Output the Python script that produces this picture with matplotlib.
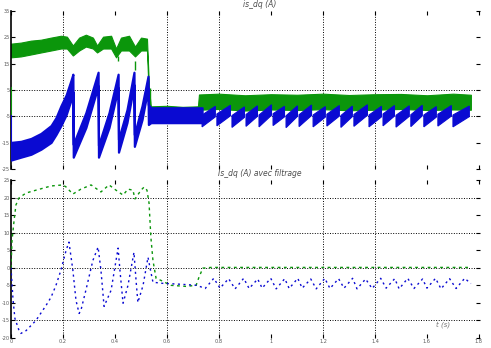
import numpy as np
import matplotlib
matplotlib.use("Agg")
import matplotlib.pyplot as plt

plt.rcParams["axes.unicode_minus"] = False

# ---- top panel (raw currents), band envelopes ----
g_t = [0, .038, .077, .115, .154, .192, .215, .238, .262, .288, .315, .331, .354, .385,
       .404, .423, .454, .477, .5, .523, .531, .538, .60, .66, .719, .723, .80, .90,
       1.0, 1.1, 1.2, 1.3, 1.4, 1.5, 1.6, 1.7, 1.769]
g_hi = [22.6, 23.0, 23.75, 24.1, 24.9, 25.6, 25.25, 21.9, 24.9, 26.0, 24.9, 21.9, 25.25,
        25.6, 20.75, 24.9, 25.6, 21.5, 24.9, 24.5, 5.0, -1.2, -1.0, -1.4, -1.2, 3.3, 3.6,
        3.0, 3.4, 3.2, 3.6, 3.1, 3.4, 3.5, 3.0, 3.6, 3.2]
g_lo = [17.4, 17.75, 18.5, 19.25, 20.0, 20.75, 20.75, 18.1, 20.0, 21.5, 20.75, 19.25,
        20.75, 20.75, 17.4, 20.0, 20.0, 17.75, 20.0, 20.0, 0.1, -6.6, -6.8, -6.5, -6.6,
        -2.5, -2.2, -2.8, -2.4, -2.6, -2.3, -2.7, -2.5, -2.2, -2.6, -2.4, -2.5]
g_spike_t = [.412, .477, .535]
g_spike_lo = [16.2, 12.5, 0.1]
g_spike_hi = [18.1, 16.2, 5.8]

b_t = [0, .038, .077, .115, .154, .173, .192, .212, .231, .238, .2395, .288, .335, .3365,
       .377, .412, .4135, .446, .473, .4745, .504, .527, .5285, .538, .735]
b_hi = [-14.9, -14.5, -13.4, -11.5, -8.5, -5.5, -1.0, 3.1, 8.75, 11.0, -15.6, -3.6, 11.75,
        -16.0, -3.6, 11.0, -13.75, -2.5, 11.75, -11.9, -1.0, 10.25, -0.6, -1.75, -1.75]
b_lo = [-21.6, -20.5, -19.4, -17.5, -14.9, -11.9, -8.5, -4.4, 1.25, 4.25, -20.5, -9.25, 6.5,
        -20.5, -9.25, 5.75, -18.6, -7.4, 6.9, -16.4, -6.25, 5.75, -8.1, -7.4, -7.4]
b_spike_t = [.238, .412]
b_spike_lo = [-4.4, -4.4]
b_spike_hi = [4.25, 5.75]

# sawtooth teeth after the change of regime
tooth_t = [.735, .792, .85, .904, .954, 1.008, 1.058, 1.108, 1.162, 1.215, 1.269, 1.319,
           1.377, 1.431, 1.481, 1.538, 1.588, 1.642, 1.7, 1.769]
tooth_bot = [-9.0, -8.6, -9.2, -8.8, -9.0, -8.5, -9.3, -8.9, -9.0, -8.7, -9.2, -8.8, -9.0,
             -8.6, -9.1, -8.9, -9.0, -8.7, -9.0]
tooth_top = [-1.2, -0.8, -1.4, -1.0, -0.6, -1.2, -1.0, -0.7, -1.3, -0.9, -1.1, -0.6, -1.2,
             -0.9, -1.0, -0.8, -1.3, -0.9, -1.1]

# ---- bottom panel (filtered currents) ----
fg_t = [0, .004, .012, .019, .031, .058, .096, .154, .2, .212, .238, .269, .308, .346,
        .377, .404, .431, .45, .469, .477, .5, .512, .523, .531, .538, .546, .558, .577,
        .615, .673, .712, .723, .738, .769, 1.769]
fg_v = [0, 7.9, 13.6, 17.9, 19.9, 21.3, 22.1, 23.3, 23.6, 23.0, 21.0, 22.4, 23.6, 21.6,
        23.6, 22.1, 20.7, 22.4, 22.1, 19.6, 22.1, 23.0, 22.1, 18.4, 8.7, 2.1, -3.0, -3.6,
        -5.0, -5.3, -5.0, -2.7, -0.1, 0.1, 0.1]

fb_t = [0, .008, .015, .031, .038, .058, .096, .135, .154, .173, .192, .212, .223, .238,
        .25, .262, .269, .288, .315, .335, .346, .358, .385, .404, .412, .419, .431, .45,
        .473, .481, .488, .508, .527, .535, .546, .577, .654, .715,
        .747, .78, .804, .837, .862, .895, .916, .949, .966, .999, 1.02, 1.053, 1.07,
        1.103, 1.12, 1.153, 1.174, 1.207, 1.227, 1.26, 1.281, 1.314, 1.331, 1.364, 1.389,
        1.422, 1.443, 1.476, 1.493, 1.526, 1.55, 1.583, 1.6, 1.633, 1.654, 1.687, 1.712,
        1.745, 1.769]
fb_v = [0, -9.3, -14.4, -17.9, -18.7, -17.9, -15.0, -10.7, -8.4, -5.0, -0.7, 5.0, 7.3,
        -0.7, -9.3, -13.0, -12.1, -6.4, 2.1, 5.9, -0.7, -11.0, -6.4, 2.1, 5.6, -0.7, -10.1,
        -5.0, 4.4, -3.6, -9.9, -5.0, 3.0, -0.1, -4.1, -4.4, -4.7, -5.0,
        -5.9, -3.0, -5.8, -3.1, -6.0, -3.0, -5.9, -3.2, -5.8, -3.0, -6.0, -3.1, -5.9,
        -3.0, -5.8, -3.2, -6.0, -3.0, -5.9, -3.1, -5.8, -3.0, -6.0, -3.2, -5.9,
        -3.0, -5.8, -3.1, -6.0, -3.0, -5.9, -3.2, -5.8, -3.0, -6.0, -3.1, -5.9,
        -3.0, -4.5]

green = "#0b960b"
blue = "#0a0ad2"
xticks = [0, 0.2, 0.4, 0.6, 0.8, 1, 1.2, 1.4, 1.6, 1.8]
xlabels = ["0", "0.2", "0.4", "0.6", "0.8", "1", "1.2", "1.4", "1.6", "1.8"]
grid_x = [0.2, 0.6, 0.8, 1.2, 1.4]

fig = plt.figure(figsize=(4.91, 3.48), dpi=100)
ax1 = fig.add_axes([11 / 491, 1 - 169 / 348, 469 / 491, 158 / 348])
ax2 = fig.add_axes([11 / 491, 1 - 338 / 348, 469 / 491, 158 / 348])


def style(ax, ylim, yticks, grid_y):
    ax.set_xlim(0, 1.804)
    ax.set_ylim(*ylim)
    ax.set_xticks(xticks)
    ax.set_yticks(yticks)
    for s in ["top", "right", "bottom"]:
        ax.spines[s].set_visible(False)
    ax.spines["left"].set_linewidth(1.2)
    ax.tick_params(direction="in", length=3, width=0.8, top=True, right=True,
                   labelsize=3.6, labelcolor="0.35", pad=0.6)
    for x in grid_x:
        ax.axvline(x, color="k", lw=0.7, ls=(0, (1, 1.6)), zorder=0)
    for y in grid_y:
        ax.axhline(y, color="k", lw=0.7, ls=(0, (1, 1.6)), zorder=0)


style(ax1, (-25, 35), [35, 25, 15, 5, -5, -15, -25], [5, -5])
ax1.set_xticklabels([])

ax1.fill_between(g_t, g_lo, g_hi, color=green, lw=0.8, edgecolor=green, zorder=2)
ax1.vlines(g_spike_t, g_spike_lo, g_spike_hi, color=green, lw=1, zorder=2)
ax1.vlines([0], [-4.4], [6.1], color=green, lw=1.5, zorder=4)
ax1.fill_between(b_t, b_lo, b_hi, color=blue, lw=1.6, edgecolor=blue, zorder=3)
ax1.vlines(b_spike_t, b_spike_lo, b_spike_hi, color=blue, lw=1, zorder=3)
ax1.vlines([0], [-16.4], [-4.4], color=blue, lw=1.5, zorder=4)
for i in range(len(tooth_t) - 1):
    t0, t1 = tooth_t[i], tooth_t[i + 1] - 0.006
    ax1.fill([t0, t1, t1, t0],
             [tooth_bot[i], tooth_top[i] - 4.0, tooth_top[i], tooth_bot[i] + 4.5],
             color=blue, lw=0.8, zorder=3)
ax1.text(0.53, 1.012, "is_dq (A)", transform=ax1.transAxes, fontsize=5.5, color="0.3",
         style="italic", ha="center", va="bottom")

style(ax2, (-20, 25), [25, 20, 15, 10, 5, 0, -5, -10, -15, -20], [20, 10, 0, -15])
ax2.set_xticklabels(xlabels)
ax2.plot(fg_t, fg_v, color=green, lw=1.0, ls=(0, (2, 2.5)), zorder=3)
ax2.plot(fb_t, fb_v, color=blue, lw=1.0, ls=(0, (1.5, 2.5)), zorder=3)
ax2.text(0.53, 1.012, "Is_dq (A) avec filtrage", transform=ax2.transAxes, fontsize=5.5,
         color="0.3", style="italic", ha="center", va="bottom")
ax2.text(0.921, 0.082, "t (s)", transform=ax2.transAxes, fontsize=5, color="0.45",
         style="italic", ha="center", va="center")

fig.savefig("out.png", dpi=100)
